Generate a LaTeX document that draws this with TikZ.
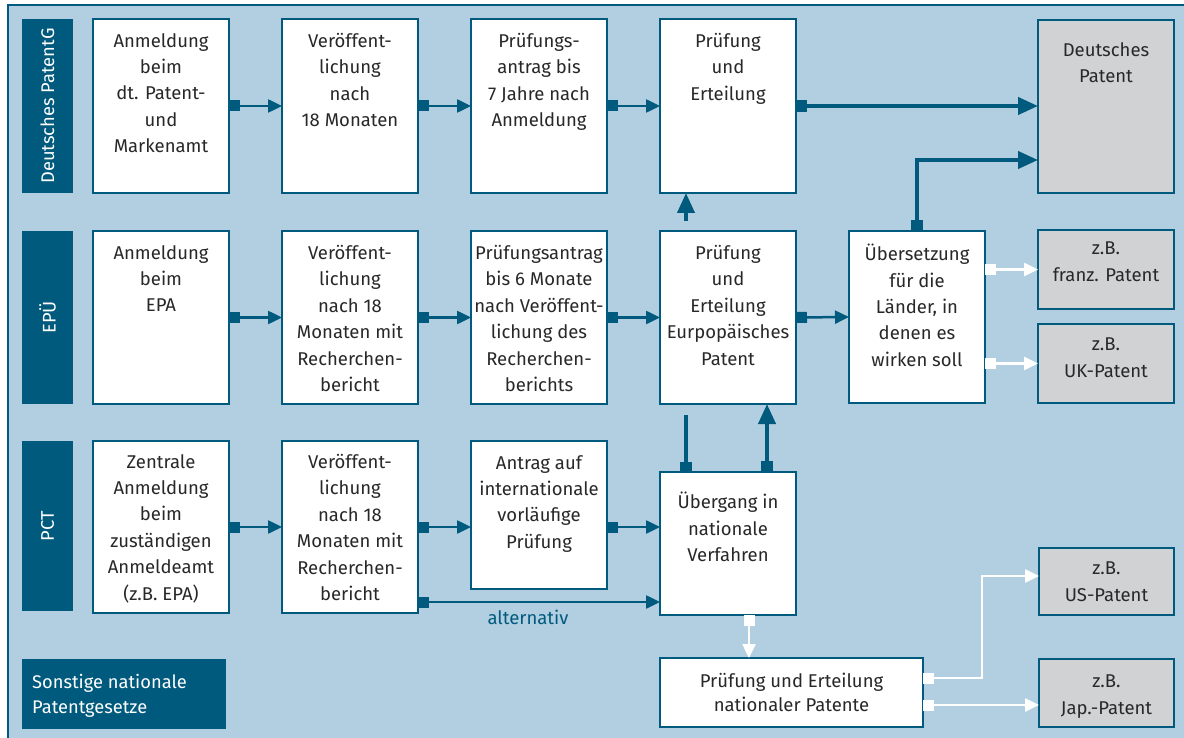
\documentclass[tikz,border=0pt]{standalone}
\usepackage{fontspec}
\setmainfont{Fira Sans}
\usetikzlibrary{arrows.meta,calc}
\definecolor{dblue}{RGB}{0,90,125}
\definecolor{lblue}{RGB}{177,207,225}
\definecolor{pgrey}{RGB}{209,210,212}
\definecolor{txt}{RGB}{40,40,40}
\tikzset{
  box/.style={draw=dblue, line width=2pt, fill=white, inner sep=0pt, outer sep=0pt, anchor=north west},
  gbox/.style={box, fill=pgrey},
  bar/.style={fill=dblue, inner sep=0pt, outer sep=0pt, anchor=north west},
  bartxt/.style={text=white, font=\fontsize{18.3}{25}\selectfont, inner sep=0pt},
  lbl/.style={font=\fontsize{18.5}{26.4}\selectfont, text=txt, align=center, inner sep=0pt, anchor=north,
    execute at begin node={\rule{0pt}{17pt}}},
  lblc/.style={font=\fontsize{18.5}{24.5}\selectfont, text=txt, align=center, inner sep=0pt},
  conn/.style={draw=dblue, line width=2.5pt, {Square[length=11pt,width=11pt]}-{Triangle[length=14pt,width=13pt]}},
  tconn/.style={draw=dblue, line width=4pt, {Square[length=11pt,width=12pt]}-{Triangle[length=20pt,width=17pt]}},
  tline/.style={draw=dblue, line width=4pt, {Square[length=10pt,width=12pt]}-},
  tup/.style={draw=dblue, line width=4pt, -{Triangle[length=20pt,width=17pt]}},
  wconn/.style={draw=white, line width=2.5pt, {Square[length=11pt,width=11pt]}-{Triangle[length=14pt,width=13pt]}},
}
\newcommand\mkbox[8]{%
  \node[#1, minimum width=#5pt, minimum height=#6pt] (#2) at (#3,#4) {};
  \node[lbl] (#2t) at ([yshift=-#7pt]#2.north) {#8};}
\begin{document}
\begin{tikzpicture}[x=1pt,y=-1pt]
\useasboundingbox (0,0) rectangle (1184,738);
\fill[white] (0,0) rectangle (1184,738);
\fill[lblue] (8,5) rectangle (1184,738);
\draw[dblue, line width=2pt] (8,738) -- (8,5) -- (1184,5);

% row bars
\node[bar, minimum width=51pt, minimum height=174pt] (barA) at (22,19) {};
\node[bartxt, rotate=90] (barAt) at (barA.center) {Deutsches PatentG};
\node[bar, minimum width=51pt, minimum height=173pt] (barB) at (22,231) {};
\node[bartxt, rotate=90] (barBt) at (barB.center) {EPÜ};
\node[bar, minimum width=51pt, minimum height=170pt] (barC) at (22,441) {};
\node[bartxt, rotate=90] (barCt) at (barC.center) {PCT};
\node[bar, minimum width=204pt, minimum height=70pt] (barD) at (22,659) {};
\node[bartxt, align=left, anchor=north west, execute at begin node={\rule{0pt}{17pt}}] (barDt) at (32,674) {Sonstige nationale\\Patentgesetze};

% row 1
\mkbox{box}{a1}{93}{19}{136}{174}{14}{Anmeldung\\beim\\dt. Patent-\\und\\Markenamt}
\mkbox{box}{a2}{282}{19}{136}{174}{14}{Veröffent-\\lichung\\nach\\18 Monaten}
\mkbox{box}{a3}{471}{19}{136}{174}{14}{Prüfungs-\\antrag bis\\7 Jahre nach\\Anmeldung}
\mkbox{box}{a4}{660}{19}{136}{174}{14}{Prüfung\\und\\Erteilung}
\mkbox{gbox}{dp}{1038}{20}{136}{173}{22}{Deutsches\\Patent}

% row 2
\mkbox{box}{b1}{93}{231}{136}{173}{14}{Anmeldung\\beim\\EPA}
\mkbox{box}{b2}{282}{231}{136}{173}{14}{Veröffent-\\lichung\\nach 18\\Monaten mit\\Recherchen-\\bericht}
\mkbox{box}{b3}{471}{231}{136}{173}{14}{Prüfungsantrag\\bis 6 Monate\\nach Veröffent-\\lichung des\\Recherchen-\\berichts}
\mkbox{box}{b4}{660}{231}{136}{173}{14}{Prüfung\\und\\Erteilung\\Eurpopäisches\\Patent}
\mkbox{box}{b5}{849}{231}{136}{172}{13}{Übersetzung\\für die\\Länder, in\\denen es\\wirken soll}
\mkbox{gbox}{fr}{1038}{230}{136}{79}{12}{z.B.\\franz. Patent}
\mkbox{gbox}{uk}{1038}{324}{136}{79}{14}{z.B.\\UK-Patent}

% row 3
\mkbox{box}{c1}{93}{441}{136}{172}{13}{Zentrale\\Anmeldung\\beim\\zuständigen\\Anmeldeamt\\(z.B. EPA)}
\mkbox{box}{c2}{282}{441}{136}{172}{13}{Veröffent-\\lichung\\nach 18\\Monaten mit\\Recherchen-\\bericht}
\mkbox{box}{c3}{471}{441}{136}{148}{14}{Antrag auf\\internationale\\vorläufige\\Prüfung}
\mkbox{box}{c4}{660}{472}{136}{143}{20}{Übergang in\\nationale\\Verfahren}

% row 4
\node[box, minimum width=263pt, minimum height=69pt] (n) at (660,658) {};
\node[lblc] (nt) at (n.center) {Prüfung und Erteilung\\nationaler Patente};
\mkbox{gbox}{us}{1039}{548}{135}{67}{14}{z.B.\\US-Patent}
\mkbox{gbox}{jp}{1039}{659}{135}{68}{16}{z.B.\\Jap.-Patent}

% helper coordinates
\coordinate (yDP) at (0,160);
\coordinate (upS) at (686,221);
\coordinate (xL) at (686,0);
\coordinate (xR) at (767,0);
\coordinate (stopL) at (686,415);
\coordinate (alt) at (0,602);
\coordinate (xW) at (749,0);
\coordinate (yN1) at (0,678);
\coordinate (xB) at (982,0);
\coordinate (yUS) at (0,576);
\coordinate (yN2) at (0,705);

% row 1 connectors
\draw[conn] (a1.east) -- (a2.west);
\draw[conn] (a2.east) -- (a3.west);
\draw[conn] (a3.east) -- (a4.west);
\draw[tconn] (a4.east) -- (dp.west |- a4.east);
\draw[tconn] (b5.north) |- (dp.west |- yDP);
\draw[tup] (upS) -- (upS |- a4.south);

% row 2 connectors
\draw[conn] (b1.east) -- (b2.west);
\draw[conn] (b2.east) -- (b3.west);
\draw[conn] (b3.east) -- (b4.west);
\draw[conn] (b4.east) -- (b5.west);
\draw[wconn] (b5.east |- fr.west) -- (fr.west);
\draw[wconn] (b5.east |- uk.west) -- (uk.west);

% row 3 connectors
\draw[conn] (c1.east) -- (c2.west);
\draw[conn] (c2.east) -- (c3.west |- c2.east);
\draw[conn] (c3.east |- c2.east) -- (c4.west |- c2.east);
\draw[conn] (c2.east |- alt) -- (c4.west |- alt);
\node[text=dblue, font=\fontsize{18.5}{24}\selectfont, inner sep=0pt] (altt) at (528,617) {alternativ};
\draw[tline] (c4.north -| xL) -- (stopL);
\draw[tconn] (c4.north -| xR) -- (b4.south -| xR);

% row 4 connectors
\draw[wconn] (c4.south -| xW) -- (n.north -| xW);
\draw[wconn] (n.east |- yN1) -| (xB |- yUS) -- (us.west |- yUS);
\draw[wconn] (n.east |- yN2) -- (jp.west |- yN2);
\end{tikzpicture}
\end{document}
